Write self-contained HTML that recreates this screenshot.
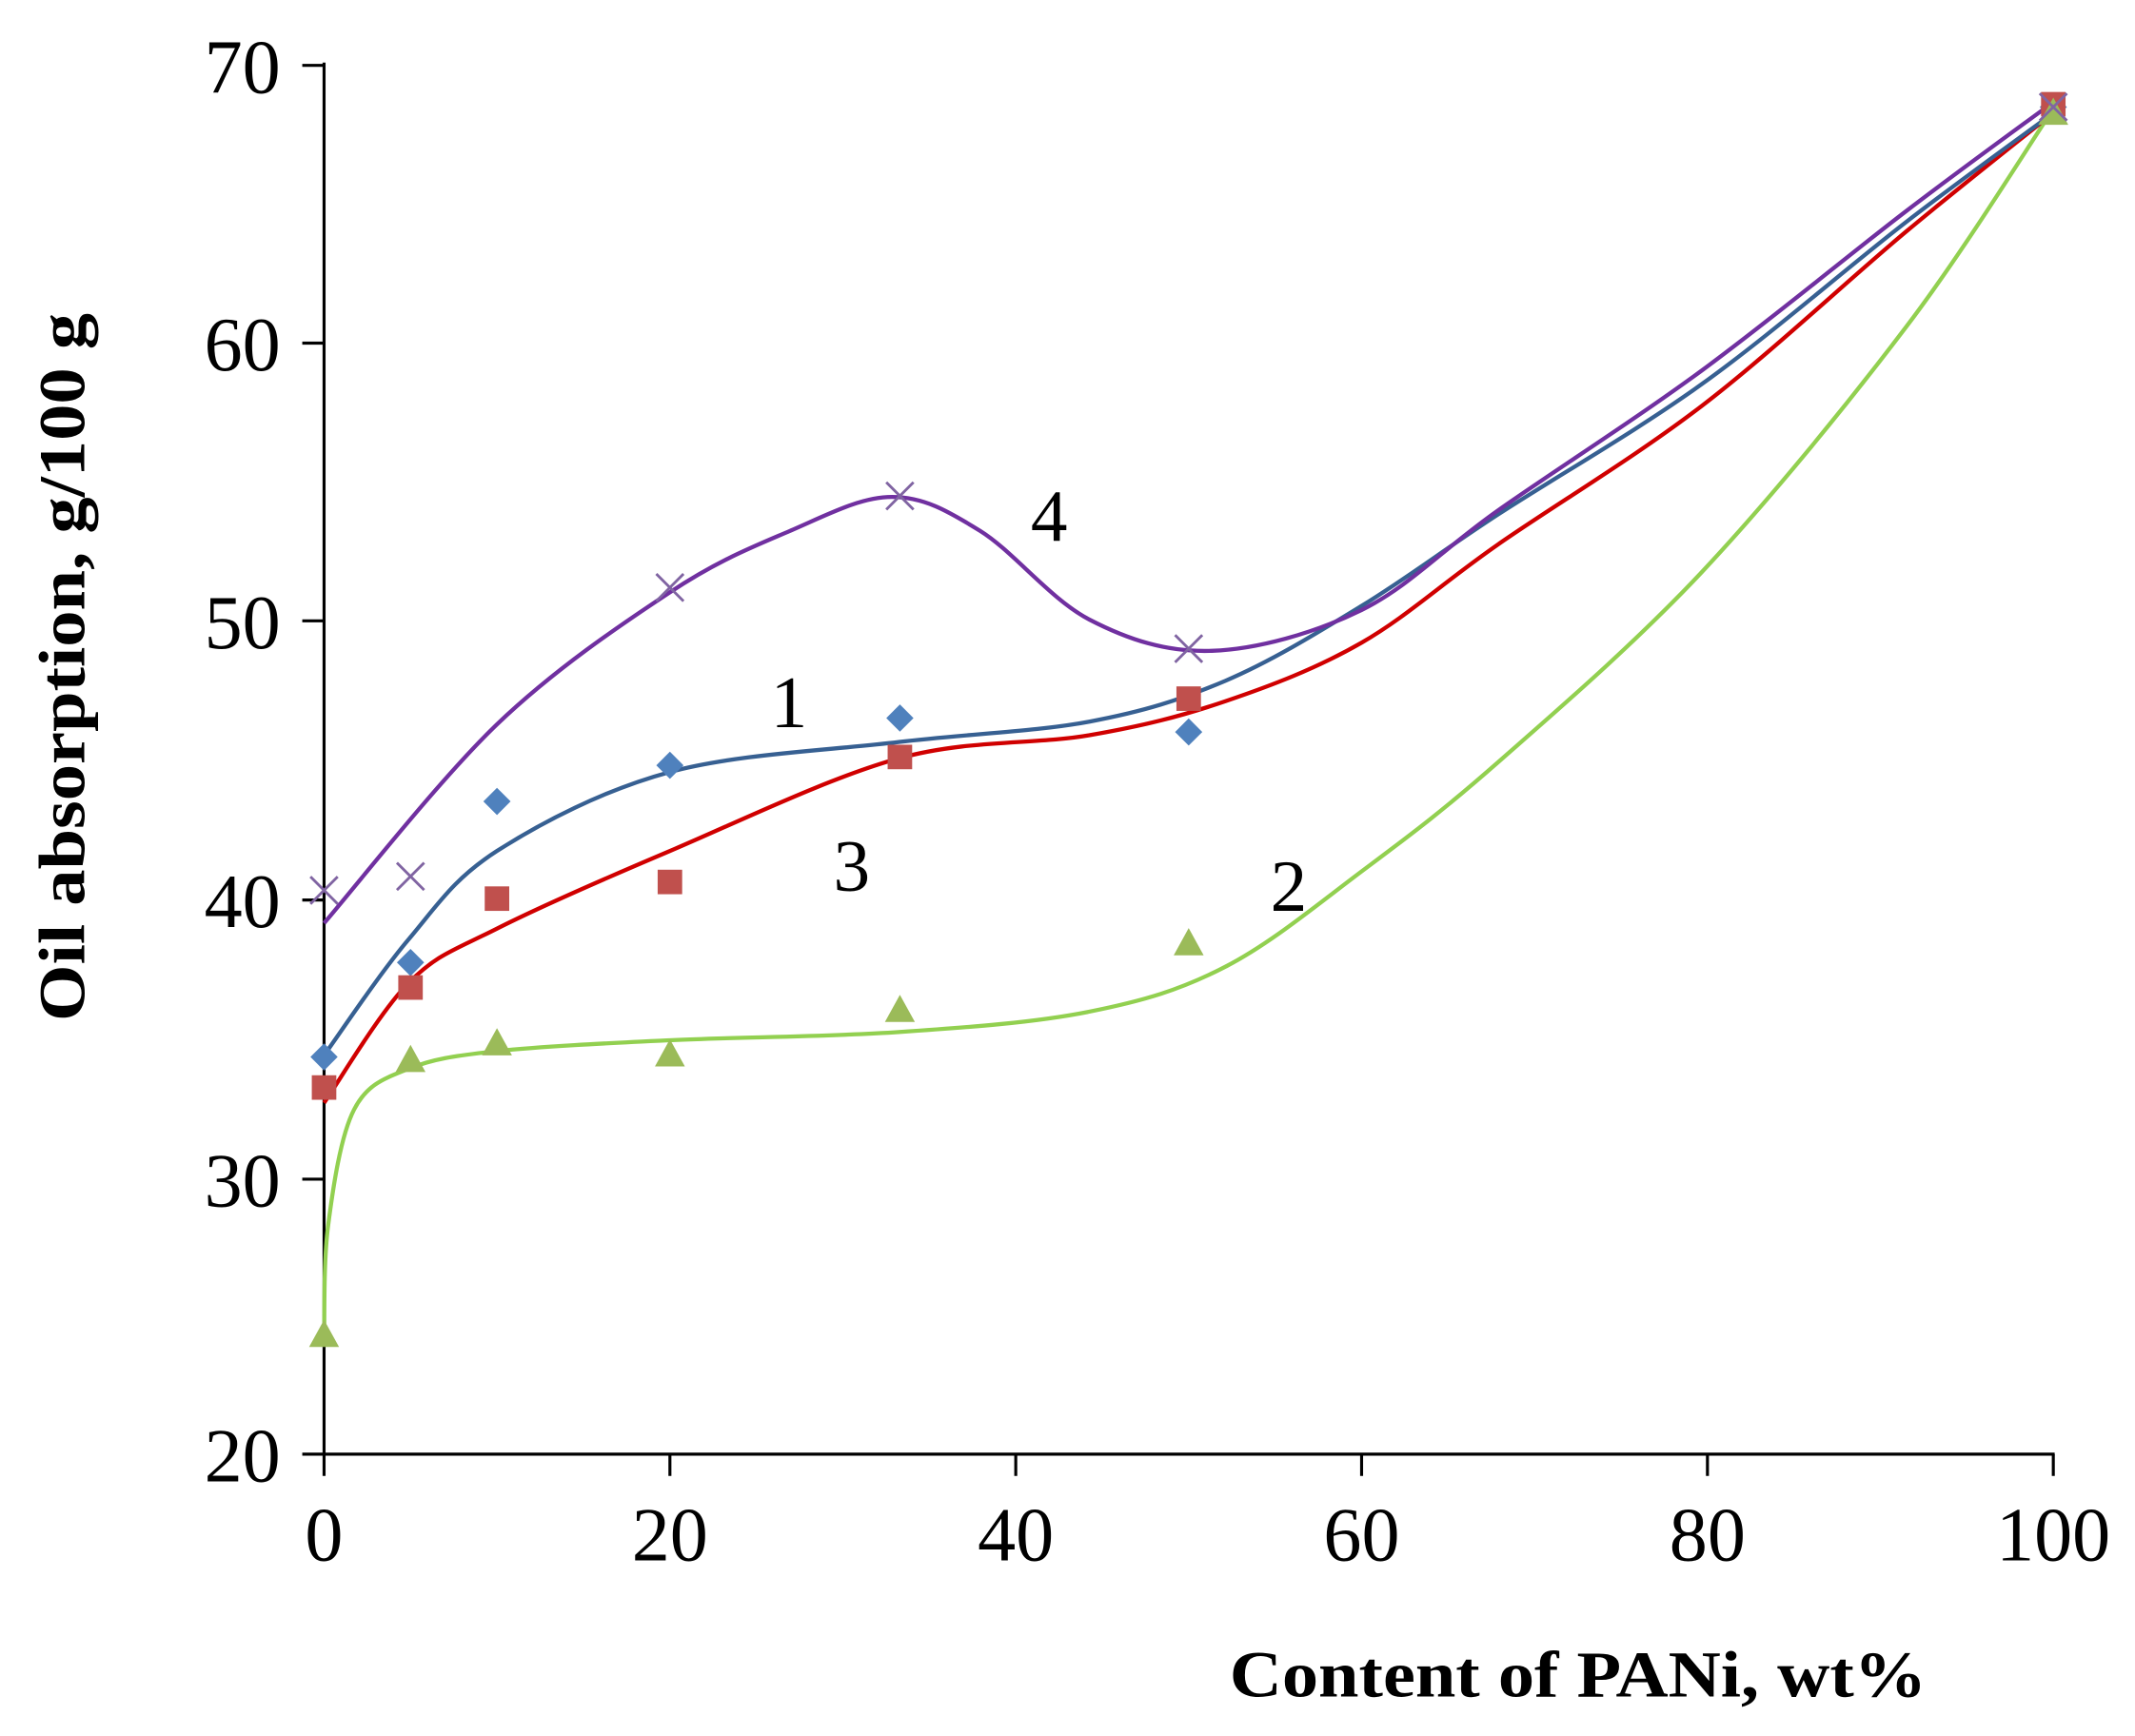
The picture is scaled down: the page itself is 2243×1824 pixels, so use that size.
<!DOCTYPE html>
<html><head><meta charset="utf-8"><style>
html,body{margin:0;padding:0;background:#fff;}
svg{display:block;}
text{font-family:"Liberation Serif",serif;fill:#000;}
</style></head><body>
<svg id="s" width="2243" height="1824" viewBox="0 0 1568 1275" preserveAspectRatio="none" xmlns="http://www.w3.org/2000/svg">
<g stroke="#000" stroke-width="2.2" fill="none">
<line x1="238" y1="46" x2="238" y2="1084"/>
<line x1="222" y1="1068" x2="1509" y2="1068"/>
<line x1="222" y1="48" x2="238" y2="48"/>
<line x1="222" y1="252" x2="238" y2="252"/>
<line x1="222" y1="456" x2="238" y2="456"/>
<line x1="222" y1="661" x2="238" y2="661"/>
<line x1="222" y1="866" x2="238" y2="866"/>
<line x1="492" y1="1068" x2="492" y2="1084"/>
<line x1="746" y1="1068" x2="746" y2="1084"/>
<line x1="1000" y1="1068" x2="1000" y2="1084"/>
<line x1="1254" y1="1068" x2="1254" y2="1084"/>
<line x1="1508" y1="1068" x2="1508" y2="1084"/>
</g>
<g font-size="56" text-anchor="end">
<text x="206" y="68">70</text><text x="206" y="272">60</text><text x="206" y="476">50</text>
<text x="206" y="681">40</text><text x="206" y="886">30</text><text x="206" y="1088">20</text>
</g>
<g font-size="56" text-anchor="middle">
<text x="238" y="1146">0</text><text x="492" y="1146">20</text><text x="746" y="1146">40</text>
<text x="1000" y="1146">60</text><text x="1254" y="1146">80</text><text x="1508" y="1146">100</text>
</g>
<text x="903" y="1246" font-size="48" font-weight="bold" textLength="512" lengthAdjust="spacingAndGlyphs">Content of PANi, wt%</text>
<text transform="translate(62,750) rotate(-90)" font-size="48" font-weight="bold" textLength="520" lengthAdjust="spacingAndGlyphs">Oil absorption, g/100 g</text>
<g id="curves" fill="none" stroke-width="3"></g>
<g id="marks"></g>
<g font-size="54">
<text x="757" y="397">4</text><text x="566" y="534">1</text><text x="612" y="654">3</text><text x="933" y="669">2</text>
</g>
</svg>
<script>
var NS="http://www.w3.org/2000/svg";
function X(v){return 238+12.7*v;} function Y(v){return 1068-20.4*(v-20);}
function cr(p){var d="M"+p[0][0]+","+p[0][1];for(var i=0;i<p.length-1;i++){var p0=p[i-1]||p[i],p1=p[i],p2=p[i+1],p3=p[i+2]||p2;
d+=" C"+(p1[0]+(p2[0]-p0[0])/6)+","+(p1[1]+(p2[1]-p0[1])/6)+" "+(p2[0]-(p3[0]-p1[0])/6)+","+(p2[1]-(p3[1]-p1[1])/6)+" "+p2[0]+","+p2[1];}return d;}
var curves=[
["#92D050",[[238,985],[241,900],[260,815],[300,785],[365,772],[492,764],[660,758],[800,743],[900,710],[1000,640],[1100,560],[1250,420],[1400,240],[1508,80]]],
["#D00000",[[238,810],[300,722],[365,682],[492,625],[660,557],[800,540],[900,515],[1000,472],[1100,400],[1250,298],[1400,170],[1508,83]]],
["#376092",[[238,775],[300,690],[365,625],[492,567],[660,545],[800,530],[900,500],[1000,445],[1100,378],[1250,282],[1400,163],[1508,83]]],
["#7030A0",[[238,678],[365,532],[492,435],[580,390],[655,365],[720,390],[800,455],[890,478],[1000,448],[1100,375],[1250,272],[1400,155],[1508,75]]]];
var g=document.getElementById("curves");
curves.forEach(function(c){var e=document.createElementNS(NS,"path");e.setAttribute("d",cr(c[1]));e.setAttribute("stroke",c[0]);g.appendChild(e);});
var m=document.getElementById("marks");
function add(tag,attrs){var e=document.createElementNS(NS,tag);for(var k in attrs)e.setAttribute(k,attrs[k]);m.appendChild(e);}
[[0,34.3],[5,37.7],[10,43.5],[20,44.8],[33.3,46.5],[50,46],[100,68.5]].forEach(function(p){var x=X(p[0]),y=Y(p[1]);
add("polygon",{points:(x)+","+(y-10)+" "+(x+10)+","+y+" "+x+","+(y+10)+" "+(x-10)+","+y,fill:"#4F81BD"});});
[[0,33.2],[5,36.8],[10,40],[20,40.6],[33.3,45.1],[50,47.2],[100,68.6]].forEach(function(p){var x=X(p[0]),y=Y(p[1]);
add("rect",{x:x-9,y:y-9,width:18,height:18,fill:"#C0504D"});});
[[0,24.3],[5,34.2],[10,34.8],[20,34.4],[33.3,36],[50,38.4],[100,68.3]].forEach(function(p){var x=X(p[0]),y=Y(p[1]);
add("polygon",{points:x+","+(y-11)+" "+(x+11)+","+(y+9)+" "+(x-11)+","+(y+9),fill:"#9BBB59"});});
[[0,40.3],[5,40.8],[20,51.2],[33.3,54.5],[50,49],[100,68.5]].forEach(function(p){var x=X(p[0]),y=Y(p[1]);
add("path",{d:"M"+(x-10)+","+(y-10)+"L"+(x+10)+","+(y+10)+"M"+(x-10)+","+(y+10)+"L"+(x+10)+","+(y-10),stroke:"#8064A2","stroke-width":2,fill:"none"});});
</script>
</body></html>
